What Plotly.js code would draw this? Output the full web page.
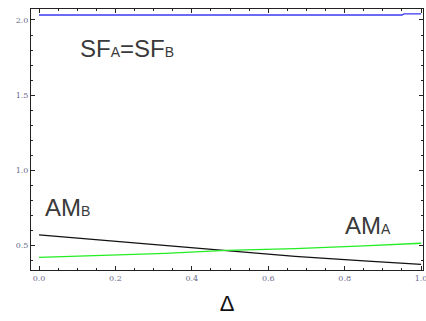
<!DOCTYPE html>
<html><head><meta charset="utf-8">
<script src="https://cdn.plot.ly/plotly-3.0.1.min.js"></script>
<style>html,body{margin:0;padding:0;background:#fff}</style>
</head><body><div id="chart" style="width:426px;height:321px"></div>
<script>
const deltaSF = [0.0, 0.5, 0.95, 0.955, 1.0];
const sf = [2.033, 2.033, 2.033, 2.04, 2.04];
const deltaAM = [0.0, 0.2, 0.33, 0.49, 0.67, 0.85, 1.0];
const amB = [0.570, 0.528, 0.500, 0.468, 0.428, 0.398, 0.375];
const amA = [0.421, 0.435, 0.448, 0.468, 0.479, 0.497, 0.515];
const xTicks = [0.0, 0.2, 0.4, 0.6, 0.8, 1.0];
const xTickText = ['0.0', '0.2', '0.4', '0.6', '0.8', '1.0'];
const yTicks = [0.5, 1.0, 1.5, 2.0];
const yTickText = ['0.5', '1.0', '1.5', '2.0'];

const traces = [
  {x: deltaSF, y: sf, mode: 'lines', line: {color: '#3a3af0', width: 1.3}},
  {x: deltaAM, y: amB, mode: 'lines', line: {color: '#111111', width: 1.3}},
  {x: deltaAM, y: amA, mode: 'lines', line: {color: '#22ee22', width: 1.3}}
];
const axBase = {
  showgrid: false, zeroline: false, showline: true, linecolor: '#222', linewidth: 1,
  mirror: 'ticks', ticks: 'inside', ticklen: 4, tickcolor: '#222', ticklabeloverflow: 'allow',
  tickfont: {family: 'DejaVu Serif', size: 8, color: '#6a6a8a'}
};
const sub = t => "<span style='font-size:14px'>" + t + "</span>";
const annFont = {family: 'Liberation Sans', size: 24, color: '#3a3a3a'};
const layout = {
  width: 426, height: 321, showlegend: false,
  margin: {l: 31, r: 3, t: 9, b: 51},
  paper_bgcolor: '#fff', plot_bgcolor: '#fff',
  xaxis: Object.assign({}, axBase, {range: [-0.021, 1.005], tickvals: xTicks, ticktext: xTickText,
    minor: {dtick: 0.05, tick0: 0, ticks: 'inside', ticklen: 2, tickcolor: '#222'},
    title: {text: 'Δ', font: {family: 'Liberation Sans', size: 22, color: '#111'}, standoff: 14}}),
  yaxis: Object.assign({}, axBase, {range: [0.337, 2.073], tickvals: yTicks, ticktext: yTickText,
    minor: {dtick: 0.1, tick0: 0, ticks: 'inside', ticklen: 2, tickcolor: '#222'}}),
  annotations: [
    {x: 0.102, y: 1.81, xref: 'x', yref: 'y', xanchor: 'left', showarrow: false,
     text: 'SF' + sub('A') + '=SF' + sub('B'), font: annFont},
    {x: 0.0105, y: 0.75, xref: 'x', yref: 'y', xanchor: 'left', showarrow: false,
     text: 'AM' + sub('B'), font: annFont},
    {x: 0.796, y: 0.63, xref: 'x', yref: 'y', xanchor: 'left', showarrow: false,
     text: 'AM' + sub('A'), font: annFont}
  ]
};
Plotly.newPlot('chart', traces, layout, {staticPlot: true, displayModeBar: false});
</script></body></html>
